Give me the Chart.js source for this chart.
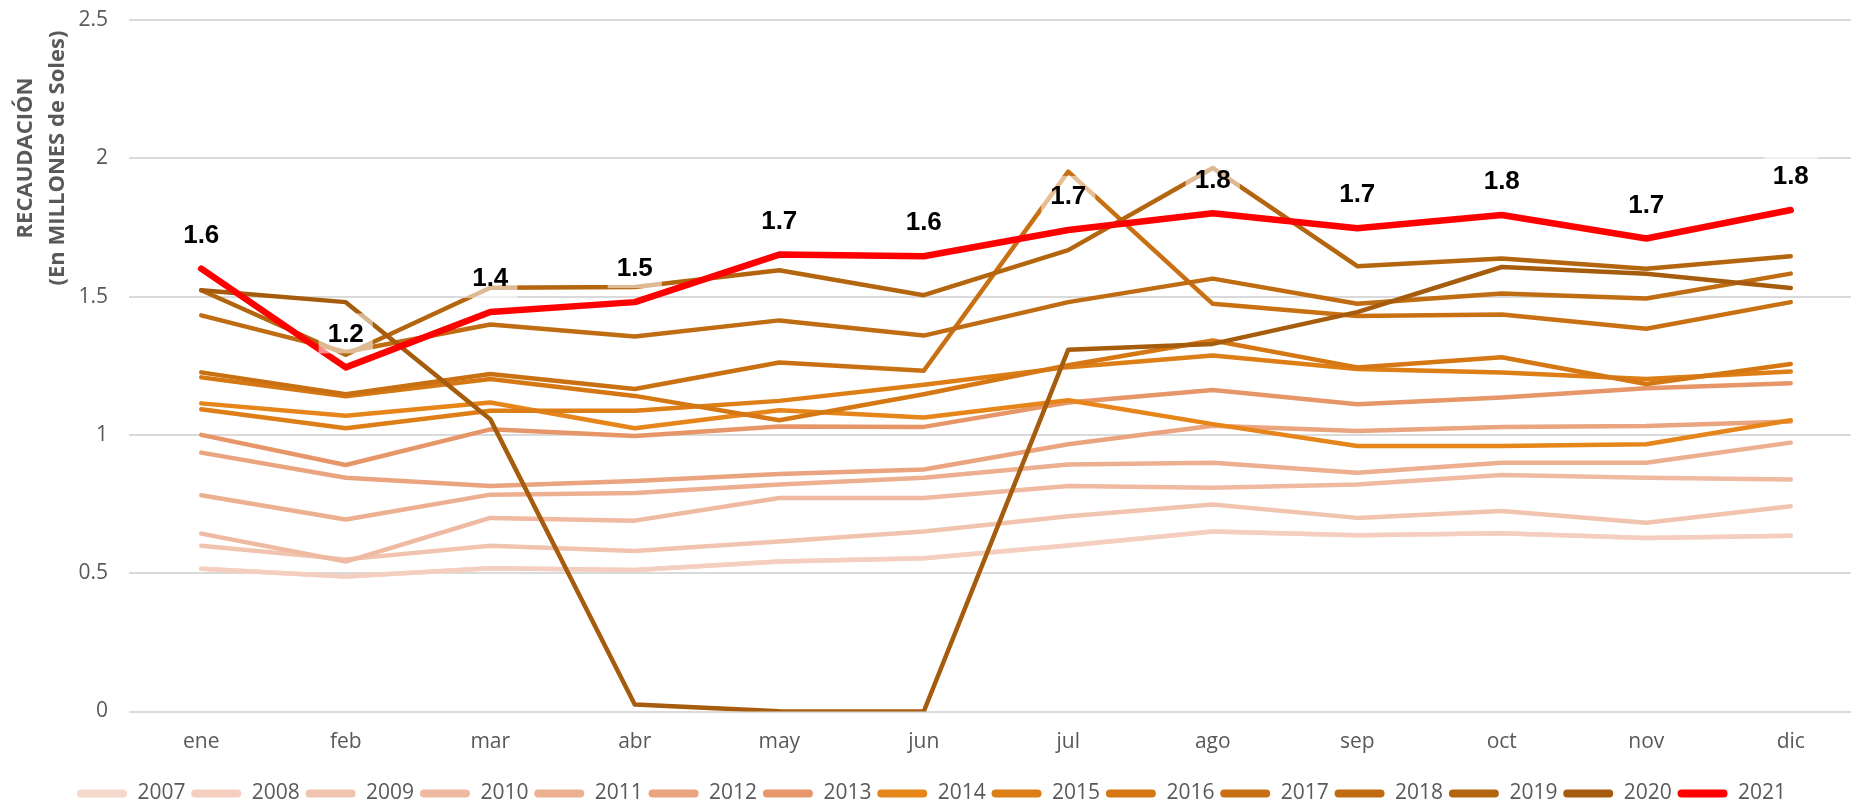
<!DOCTYPE html>
<html>
<head>
<meta charset="utf-8">
<script src="https://cdn.jsdelivr.net/npm/chart.js@4.4.1/dist/chart.umd.min.js"></script>
<style>
  html, body { margin: 0; padding: 0; background: #ffffff; overflow: hidden; }
  #crop { width: 1851px; height: 802px; overflow: hidden; position: relative; background: #fff; }
  #holder { width: 1863px; height: 814px; position: absolute; left: 0; top: 0; }
</style>
</head>
<body>
<div id="crop"><div id="holder"><canvas id="c" width="1863" height="814"></canvas></div></div>
<script>
// ---------- data ----------
const months = ['ene','feb','mar','abr','may','jun','jul','ago','sep','oct','nov','dic'];
const years = ['2007','2008','2009','2010','2011','2012','2013','2014','2015','2016','2017','2018','2019','2020','2021'];
const yTickLabels = ['0','0.5','1','1.5','2','2.5'];
const yAxisTitle = ['RECAUDACIÓN', '(En MILLONES de Soles)'];

const v2007 = [0.516,0.488,0.518,0.512,0.542,0.554,0.600,0.651,0.637,0.644,0.627,0.635];
const v2008 = [0.516,0.488,0.518,0.512,0.542,0.554,0.600,0.651,0.637,0.644,0.627,0.635];
const v2009 = [0.599,0.550,0.599,0.580,0.615,0.651,0.706,0.748,0.700,0.725,0.682,0.742];
const v2010 = [0.643,0.542,0.700,0.690,0.772,0.772,0.815,0.809,0.821,0.855,0.845,0.839];
const v2011 = [0.782,0.694,0.784,0.790,0.821,0.845,0.893,0.899,0.863,0.899,0.899,0.972];
const v2012 = [0.936,0.845,0.815,0.833,0.859,0.875,0.966,1.033,1.014,1.029,1.032,1.048];
const v2013 = [1.000,0.891,1.020,0.996,1.030,1.029,1.117,1.162,1.111,1.135,1.169,1.187];
const v2014 = [1.114,1.069,1.117,1.024,1.089,1.063,1.125,1.039,0.960,0.960,0.966,1.053];
const v2015 = [1.093,1.024,1.087,1.087,1.123,1.181,1.245,1.287,1.238,1.226,1.202,1.229];
const v2016 = [1.208,1.140,1.202,1.141,1.053,1.147,1.252,1.341,1.244,1.281,1.184,1.256];
const v2017 = [1.226,1.147,1.220,1.166,1.262,1.232,1.952,1.474,1.430,1.435,1.384,1.480];
const v2018 = [1.432,1.300,1.399,1.356,1.414,1.359,1.480,1.565,1.474,1.511,1.493,1.583];
const v2019 = [1.523,1.290,1.532,1.535,1.595,1.505,1.668,1.965,1.610,1.638,1.601,1.646];
const v2020 = [1.523,1.480,1.057,0.025,0.001,0.000,1.308,1.329,1.444,1.607,1.583,1.531];
const v2021 = [1.601,1.244,1.444,1.480,1.652,1.646,1.741,1.801,1.747,1.795,1.710,1.813];

const seriesValues = [v2007,v2008,v2009,v2010,v2011,v2012,v2013,v2014,v2015,v2016,v2017,v2018,v2019,v2020,v2021];

// ---------- styles ----------
const colors = ['#F6D8CA','#F4CFBF','#F1C4B0','#EFBAA1','#ECAF90','#EAA480','#E7966A',
                '#E6851A','#DE7E16','#D57713','#C97112','#BF6C12','#B4660F','#A55C0D','#FF0000'];
const GRAY = '#595959';

Chart.defaults.font.family = "'Open Sans', 'DejaVu Sans', sans-serif";
Chart.defaults.color = GRAY;

const datasets = years.map((y, i) => ({
  label: y,
  data: seriesValues[i],
  borderColor: colors[i],
  backgroundColor: colors[i],
  borderWidth: y === '2021' ? 6.5 : 4.5,
  pointRadius: 0,
  pointHoverRadius: 0,
  tension: 0,
  fill: false,
  borderJoinStyle: 'round',
  borderCapStyle: 'round',
  order: years.length - 1 - i
}));

const labelPlugin = {
  id: 'redLabels',
  afterDatasetsDraw(chart) {
    const idx = years.indexOf('2021');
    const meta = chart.getDatasetMeta(idx);
    const ctx = chart.ctx;
    ctx.save();
    ctx.font = 'bold 26px "Liberation Sans", Arial, sans-serif';
    ctx.textAlign = 'center';
    ctx.textBaseline = 'middle';
    meta.data.forEach((pt, i) => {
      const txt = v2021[i].toFixed(1);
      const w = ctx.measureText(txt).width + 18;
      const cy = pt.y - 34;
      ctx.fillStyle = 'rgba(255,255,255,0.55)';
      ctx.fillRect(pt.x - w / 2, cy - 20, w, 40);
      ctx.fillStyle = '#000000';
      ctx.fillText(txt, pt.x, cy + 1);
    });
    ctx.restore();
  }
};

const yTitlePlugin = {
  id: 'yTitle',
  afterDraw(chart) {
    const ctx = chart.ctx;
    ctx.save();
    ctx.font = "bold 22px 'Open Sans', sans-serif";
    ctx.fillStyle = GRAY;
    ctx.textAlign = 'center';
    ctx.textBaseline = 'alphabetic';
    const xs = [31.5, 63.5];
    yAxisTitle.forEach((t, i) => {
      ctx.save();
      ctx.translate(xs[i], 158);
      ctx.rotate(-Math.PI / 2);
      ctx.fillText(t, 0, 0);
      ctx.restore();
    });
    ctx.restore();
  }
};

new Chart(document.getElementById('c'), {
  type: 'line',
  data: { labels: months, datasets },
  options: {
    responsive: false,
    devicePixelRatio: 1,
    animation: false,
    events: [],
    layout: { padding: { top: 20, left: 0, right: 0, bottom: 0 } },
    scales: {
      x: {
        offset: true,
        grid: { display: false, drawTicks: false },
        border: { display: false },
        ticks: { font: { size: 21 }, color: GRAY, padding: 18, maxRotation: 0, autoSkip: false },
        afterFit(scale) { scale.height += 4.5; }
      },
      y: {
        min: 0, max: 2.5,
        grid: { color: '#DADADA', lineWidth: 2, drawTicks: false },
        border: { display: false },
        ticks: {
          stepSize: 0.5, padding: 21, font: { size: 21 }, color: GRAY,
          callback: (v, i) => yTickLabels[i]
        },
        afterFit(scale) {
          scale.width = 129;
          scale.paddingTop = 0;
          scale.paddingBottom = 0;
        }
      }
    },
    plugins: {
      tooltip: { enabled: false },
      title: { display: false },
      legend: {
        position: 'bottom',
        labels: {
          boxWidth: 50,
          boxHeight: 8,
          padding: 5.8,
          color: GRAY,
          font: { size: 21 },
          useBorderRadius: true,
          borderRadius: 4,
          sort: (a, b) => a.datasetIndex - b.datasetIndex,
          generateLabels(chart) {
            const items = Chart.defaults.plugins.legend.labels.generateLabels(chart);
            items.forEach(it => {
              const c = colors[it.datasetIndex];
              it.fillStyle = c;
              it.strokeStyle = c;
              it.lineWidth = 0;
            });
            return items;
          }
        }
      }
    }
  },
  plugins: [labelPlugin, yTitlePlugin]
});
</script>
</body>
</html>
